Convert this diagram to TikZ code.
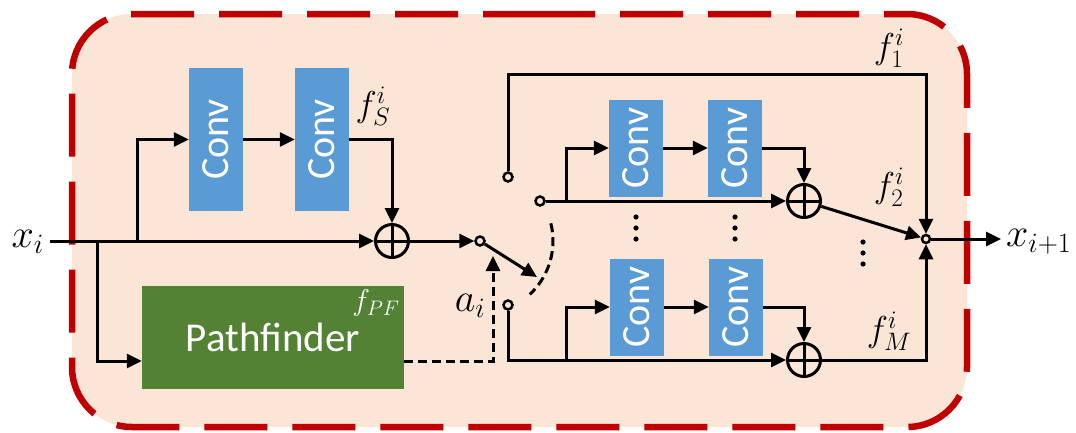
\RequirePackage{fix-cm}
\documentclass[tikz,border=0pt]{standalone}
\usepackage{fontspec}
\setsansfont{Carlito}
\usetikzlibrary{arrows.meta,calc}
\definecolor{peach}{HTML}{FBE5D6}
\definecolor{bordred}{HTML}{C00000}
\definecolor{convblue}{HTML}{5B9BD5}
\definecolor{pfgreen}{HTML}{548235}
\tikzset{
  arr/.style={line width=3pt, -{Triangle[length=15pt,width=14pt]}},
  dashedline/.style={line width=3pt, dash pattern=on 9pt off 5pt},
  convbox/.style={fill=convblue, inner sep=0pt, minimum width=54pt, text=white, font={\sffamily\fontsize{40}{40}\selectfont}},
  tallconv/.style={convbox, minimum height=143pt},
  shortconv/.style={convbox, minimum height=97pt},
  plusnode/.style={circle, draw, line width=3pt, minimum size=33pt, inner sep=0pt,
    path picture={\draw[line width=3pt] (path picture bounding box.north) -- (path picture bounding box.south) (path picture bounding box.west) -- (path picture bounding box.east);}},
  term/.style={circle, draw, line width=2.5pt, fill=peach, minimum size=9pt, inner sep=0pt},
  mlabel/.style={font={\fontsize{40}{44}\selectfont}, inner sep=0pt},
  flabel/.style={font={\fontsize{36}{40}\selectfont}, inner sep=0pt},
}
\begin{document}
\begin{tikzpicture}[x=1pt,y=1pt]
\useasboundingbox (0,0) rectangle (1076,-432);
% outer dashed frame
\path[fill=peach, draw=bordred, line width=6.5pt, dash pattern=on 63pt off 25pt, rounded corners=60pt]
  (472,-14) -| (967,-427) -| (72,-14) -- cycle;

% nodes
\node[tallconv] (c1) at (216,-139.5) {\rotatebox{90}{Conv}};
\node[tallconv] (c2) at (322,-139.5) {\rotatebox{90}{Conv}};
\node[plusnode] (p1) at (392,-241) {};
\node[fill=pfgreen, minimum width=262pt, minimum height=103pt, inner sep=0pt, text=white,
      font={\sffamily\fontsize{41}{41}\selectfont}] (pf) at (273,-337.5) {Pathfinder};
\node[term] (pv) at (480,-241) {};
\node[term] (t1) at (508,-177) {};
\node[term] (t2) at (540,-201) {};
\node[term] (t3) at (508,-305) {};
\node[shortconv] (c3) at (636,-148) {\rotatebox{90}{Conv}};
\node[shortconv] (c4) at (735,-148) {\rotatebox{90}{Conv}};
\node[shortconv] (c5) at (637,-307) {\rotatebox{90}{Conv}};
\node[shortconv] (c6) at (736,-307) {\rotatebox{90}{Conv}};
\node[plusnode] (p2) at (804,-201) {};
\node[plusnode] (p3) at (804,-360) {};
\node[term, minimum size=8pt] (jn) at (926,-239) {};

% labels
\node[mlabel, anchor=base east] (xi) at (44,-247) {$x_i$};
\node[mlabel, anchor=base west] (xo) at (1006,-246) {$x_{i+1}$};
\node[flabel] (fs) at (373,-106) {$f_S^i$};
\node[flabel] (f1) at (889,-48) {$f_1^i$};
\node[flabel] (f2) at (889,-187) {$f_2^i$};
\node[flabel] (fm) at (889,-331) {$f_M^i$};
\node[mlabel] (ai) at (470,-306) {$a_i$};
\node[font={\fontsize{30}{32}\selectfont}, text=white, inner sep=0pt] (fpf) at (376,-303) {$f_{PF}$};

% coordinates
\coordinate (xin) at (50,-241);
\coordinate (b1) at (137,-241);
\coordinate (b2) at (97,-241);
\coordinate (pfc) at (493,-361);
\coordinate (ctl) at (493,-256);
\coordinate (swt) at (537,-277);
\coordinate (topc) at (926,-74);
\coordinate (b3) at (566,-201);
\coordinate (b4) at (566,-360);
\coordinate (xout) at (1001,-239);

% left part
\draw[arr] (xin) -- (p1);
\draw[arr] (b1) |- (c1.west);
\draw[arr] (c1) -- (c2);
\draw[arr] (c2.east) -| (p1.north);
\draw[arr] (b2) |- (pf.west |- pfc);
\draw[dashedline, -{Triangle[length=15pt,width=14pt]}] (pf.east |- pfc) -- (pfc) -- (ctl);

% switch
\draw[arr] (p1) -- (pv);
\draw[arr] (pv) -- (swt);
\draw[dashedline] ($(pv)+(14:73)$) arc[start angle=14, end angle=-47, radius=73];

% right part
\draw[arr] (t1) |- (topc) -- (jn);
\draw[arr] (t2) -- (p2);
\draw[arr] (b3) |- (c3.west);
\draw[arr] (c3) -- (c4);
\draw[arr] (c4.east) -| (p2.north);
\draw[arr] (t3) |- (p3);
\draw[arr] (b4) |- (c5.west);
\draw[arr] (c5) -- (c6);
\draw[arr] (c6.east) -| (p3.north);
\draw[arr] (p2) -- (jn);
\draw[arr] (p3) -| (jn);
\draw[arr] (jn) -- (xout);

% vertical dots
\foreach \yy in {-217,-228,-239} {
  \fill (636,\yy) circle (2.6);
  \fill (735,\yy) circle (2.6);
}
\foreach \yy in {-242,-253,-264} {
  \fill (863,\yy) circle (2.6);
}
\end{tikzpicture}
\end{document}
